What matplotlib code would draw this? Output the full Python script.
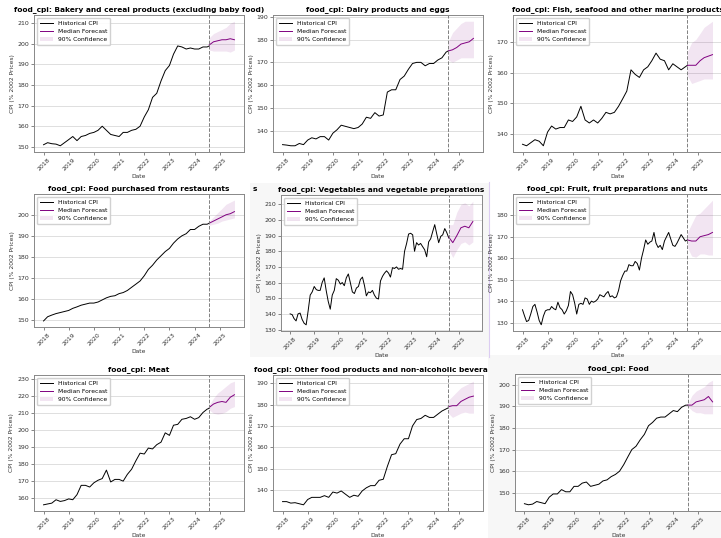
import numpy as np
import pandas as pd
import matplotlib
matplotlib.use('Agg')
import matplotlib.pyplot as plt
import matplotlib.dates as mdates
from matplotlib.ticker import MultipleLocator
from matplotlib.patches import Rectangle
from matplotlib.lines import Line2D

# dates: most series read every 2 months, the jumpy ones every month
bimonthly = pd.date_range('2018-01-01', '2024-07-01', freq='2MS').append(pd.DatetimeIndex(['2024-08-01']))
monthly = pd.date_range('2018-01-01', '2024-08-01', freq='MS')
fc_dates = pd.date_range('2024-08-01', '2025-08-01', freq='2MS')
cutoff = pd.Timestamp('2024-08-01')

# historical CPI values
bakery = [151, 152, 151.5, 151.3, 150.5, 152,
          153.5, 155, 153, 155, 155.5, 156.5,
          157, 158, 160, 158, 156, 155.5,
          155, 157, 157, 158, 158.5, 160,
          164.5, 168, 174, 176, 182, 187,
          189.5, 195, 199, 198.5, 197.5, 198,
          197.5, 197.5, 198.5, 198.5, 199]
dairy = [134, 133.8, 133.5, 133.5, 134.5, 134,
         136, 137, 136.5, 137.5, 137.5, 136,
         139, 140.5, 142.5, 142, 141.5, 141,
         141.5, 143, 146, 145.5, 148, 146.5,
         147, 157, 158, 158, 162.5, 164,
         167, 169.5, 170, 170, 168.5, 169.5,
         169.5, 171, 172, 174.5, 175]
fish = [136.5, 136, 137, 138, 137.5, 136,
        140.5, 142.5, 141.5, 142, 142, 144.5,
        144, 145.5, 149, 144.5, 143.5, 144.5,
        143.5, 145, 147, 146.5, 147, 149,
        151.5, 154, 161, 159.5, 158.5, 161,
        162, 164, 166.5, 164.5, 164, 161,
        163, 162, 161, 162, 162.5]
restaurants = [149.5, 151.5, 152.3, 153, 153.5, 154,
               154.5, 155.5, 156.2, 157, 157.5, 158,
               158, 158.5, 159.5, 160.5, 161.2, 161.5,
               162.5, 163, 164, 165.5, 167, 168.5,
               171, 174, 176, 178.5, 180.5, 182.5,
               184, 186.5, 188.5, 190, 191, 193,
               193, 194.5, 195.5, 195.5, 196]
vegetables = [140, 139.5, 137, 135.5, 140, 140.5, 136.5, 134, 133, 142, 152, 154,
              157.5, 155.5, 155, 155, 160, 163, 155, 148, 143, 152, 155, 162.5,
              161.5, 159, 160, 158, 163, 165.5, 160, 154, 153, 156.5, 157.5, 162,
              163.5, 158, 151.5, 154, 153.5, 155, 152, 150, 149.5, 161, 164, 166,
              167.5, 166, 163.5, 169.5, 169, 170, 168.5, 169, 168.5, 180, 185, 191,
              191.5, 190.5, 180, 185.5, 184, 185, 183, 181, 176.5, 186, 188, 192.5,
              197, 191, 185.5, 189.5, 190.5, 194.5, 192, 188.5]
fruit = [136, 133, 130.5, 131, 134, 137.5, 138.5, 135, 131, 129, 133, 135.5,
         136, 136, 137.5, 136.5, 136, 139.5, 137, 136, 134, 135.5, 138, 144.5,
         143, 139, 134, 138.5, 139, 138.5, 141.5, 141, 138.5, 140, 139.5, 140,
         141, 143, 142.5, 142, 143.5, 144.5, 142, 142.5, 141.5, 142, 145, 149.5,
         152, 154, 154, 157, 156.5, 156.5, 158.5, 157.5, 154.5, 160, 164, 168.5,
         166.5, 167.5, 168, 172, 167, 165, 166, 164, 168, 170, 172, 169,
         166, 165.5, 167, 169, 171, 169.5, 168, 168.5]
meat = [156, 156.5, 157, 159, 158, 158.5,
        159.5, 159, 162, 167.5, 167.5, 166.5,
        169, 170.5, 171.5, 176.5, 169.5, 171,
        171, 170, 174, 177, 182, 186.5,
        186, 189.5, 189, 191.5, 193, 198.5,
        197, 203, 203.5, 206.5, 207, 208,
        206.5, 207.5, 210.5, 212.5, 213]
other = [134.5, 134.5, 133.8, 134, 133.5, 133,
         135.5, 136.5, 136.5, 136.5, 137.3, 136.5,
         139, 138.5, 139.5, 138, 136.5, 137.5,
         137, 139.5, 141, 142, 142, 144.5,
         145, 151, 156.5, 157, 161.5, 164,
         164, 170, 173, 173.5, 175, 174,
         174, 175.5, 177, 178, 178.5]
food = [145, 144.5, 144.8, 146, 145.5, 145,
        148, 149.5, 149.5, 151.5, 150.5, 150.5,
        153, 153, 154.5, 155, 153, 153.5,
        154, 155.5, 156, 157.5, 158.5, 160,
        163, 166.5, 170, 171.5, 174.5, 177,
        181, 182.5, 184.5, 185, 185, 186.5,
        188, 187.5, 189.5, 190.5, 190.5]

# forecasts: median, lower 5%, upper 95%
bakery_fc = [199.5, 201, 201.5, 202, 202, 202.5, 202]
bakery_lo = [197, 196.5, 196.5, 196.5, 196.5, 196, 197]
bakery_hi = [203, 205, 206, 207, 208, 210, 211]
dairy_fc = [175, 175.5, 176.5, 178, 178.5, 179, 180.5]
dairy_lo = [171, 170, 171, 172, 172, 172, 172]
dairy_hi = [179, 183, 185, 187, 188, 188, 188]
fish_fc = [162.5, 162.5, 162.5, 164, 165, 165.5, 166]
fish_lo = [159, 156.5, 157, 157.5, 158, 158, 158]
fish_hi = [167, 170, 171, 173, 175, 176, 177]
restaurants_fc = [196, 197, 198, 199, 200, 200.5, 201.5]
restaurants_lo = [195, 195.5, 196, 197, 197.5, 198, 198.5]
restaurants_hi = [197, 199, 201, 203, 205, 206, 207]
vegetables_fc = [189, 185.5, 190, 195, 196, 195, 199]
vegetables_lo = [181, 176, 181, 185, 186, 184, 186]
vegetables_hi = [197, 197, 205, 210, 211, 209, 212]
fruit_fc = [168.5, 168, 168, 170, 170.5, 171, 172]
fruit_lo = [165, 161, 160.5, 162, 162, 161.5, 161.5]
fruit_hi = [172, 176, 180, 181, 183, 185, 187]
meat_fc = [213.5, 215.5, 216.5, 217, 216.5, 219.5, 221]
meat_lo = [212, 210, 209.5, 210, 211, 213, 214]
meat_hi = [215, 219, 222, 224, 226, 228, 229]
other_fc = [179, 179.5, 179.5, 181.5, 182.5, 183.5, 184]
other_lo = [176, 174, 175, 176, 176.5, 176, 176]
other_hi = [182, 184, 186, 188, 189, 190, 191]
food_fc = [190.5, 190.5, 192, 192.5, 193, 194.5, 192]
food_lo = [190, 188, 187, 187, 186.5, 186.5, 186.5]
food_hi = [191, 195, 197, 198, 199, 201, 202]

titles = ['Bakery and cereal products (excluding baby food)',
          'Dairy products and eggs',
          'Fish, seafood and other marine products',
          'Food purchased from restaurants',
          'Vegetables and vegetable preparations',
          'Fruit, fruit preparations and nuts',
          'Meat',
          'Other food products and non-alcoholic beverages',
          'Food']

W, H = 721, 538


def box(x0, y0, x1, y1):
    # pixel box (top-left origin) -> figure fraction rect
    return [x0 / W, 1 - y1 / H, (x1 - x0) / W, (y1 - y0) / H]


def plot_panel(ax, title, dates, hist, fc, lo, hi):
    ax.plot(dates, hist, color='black', lw=0.7, label='Historical CPI')
    ax.plot(fc_dates, fc, color='purple', lw=0.7, label='Median Forecast')
    ax.fill_between(fc_dates, lo, hi, color='purple', alpha=0.1, lw=0, label='90% Confidence')
    ax.axvline(cutoff, color='gray', ls='--', lw=0.7)
    ax.set_title('food_cpi: ' + title, fontsize=5.3, fontweight='bold', pad=3)
    ax.set_xlabel('Date', fontsize=4.3, labelpad=1.5, color='#333333')
    ax.set_ylabel('CPI (% 2002 Prices)', fontsize=4.3, labelpad=2, color='#333333')
    ax.xaxis.set_major_locator(mdates.YearLocator())
    ax.xaxis.set_major_formatter(mdates.DateFormatter('%Y'))
    ax.yaxis.set_major_locator(MultipleLocator(10))
    ax.tick_params(labelsize=4.5, length=2, width=0.5, pad=1.5, colors='#555555', labelcolor='#333333')
    plt.setp(ax.get_xticklabels(), rotation=45)
    ax.grid(axis='y', color='#d9d9d9', lw=0.6)
    ax.set_axisbelow(True)
    for s in ax.spines.values():
        s.set_color('#888888')
        s.set_linewidth(0.7)
    ax.legend(loc='upper left', fontsize=4.3, frameon=True, borderpad=0.5,
              labelspacing=0.45, handlelength=2.2, framealpha=0.9, edgecolor='#cccccc')


fig = plt.figure(figsize=(W / 100, H / 100), dpi=100)

# light grey backdrops of the two pasted-in panels
fig.patches.append(Rectangle((250 / W, 1 - 357 / H), 239 / W, 174 / H, transform=fig.transFigure,
                             facecolor='#f7f7f7', edgecolor='none', zorder=0.5))
fig.patches.append(Rectangle((488 / W, 0), 233 / W, 183 / H, transform=fig.transFigure,
                             facecolor='#f7f7f7', edgecolor='none', zorder=0.5))
fig.lines.append(Line2D([489 / W, 489 / W], [1 - 357 / H, 1 - 182 / H], transform=fig.transFigure,
                        color='#dccdf2', lw=0.8, zorder=0.6))

panels = [
    (box(34, 15, 244, 152), bimonthly, bakery, bakery_fc, bakery_lo, bakery_hi, 0),
    (box(273, 15, 483, 152), bimonthly, dairy, dairy_fc, dairy_lo, dairy_hi, 0),
    (box(513, 15, 722, 152), bimonthly, fish, fish_fc, fish_lo, fish_hi, 0),
    (box(34, 194, 244, 327), bimonthly, restaurants, restaurants_fc, restaurants_lo, restaurants_hi, 0),
    (box(281, 195, 482, 331), monthly, vegetables, vegetables_fc, vegetables_lo, vegetables_hi, 1),
    (box(513, 194, 722, 331), monthly, fruit, fruit_fc, fruit_lo, fruit_hi, 1),
    (box(34, 375, 244, 511), bimonthly, meat, meat_fc, meat_lo, meat_hi, 0),
    (box(273, 375, 483, 511), bimonthly, other, other_fc, other_lo, other_hi, 0),
    (box(515, 374, 722, 511), bimonthly, food, food_fc, food_lo, food_hi, 1),
]

for (rect, dates, hist, fc, lo, hi, z), title in zip(panels, titles):
    ax = fig.add_axes(rect, zorder=z)
    plot_panel(ax, title, dates, hist, fc, lo, hi)

# stray letter left over in the pasted picture
fig.text(255 / W, 1 - 189 / H, 's', fontsize=5.3, fontweight='bold', ha='center', va='center', zorder=2)

fig.savefig('out.png', dpi=100)
